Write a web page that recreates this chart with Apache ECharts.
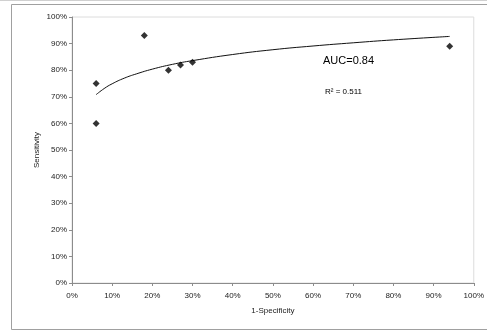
<!DOCTYPE html>
<html>
<head>
<meta charset="utf-8">
<script src="https://cdn.jsdelivr.net/npm/echarts@6/dist/echarts.min.js"></script>
<style>
html,body{margin:0;padding:0;background:#fff;}
#chart{width:487px;height:331px;}
</style>
</head>
<body>
<div id="chart"></div>
<script>
// Observed ROC points (1-Specificity, Sensitivity)
var specX = [0.06, 0.06, 0.18, 0.24, 0.27, 0.30, 0.94];
var sensY = [0.75, 0.60, 0.93, 0.80, 0.82, 0.83, 0.89];
// Logarithmic trendline
var trendX = [0.06, 0.08, 0.10, 0.13, 0.16, 0.20, 0.25, 0.30, 0.40, 0.50, 0.60, 0.70, 0.80, 0.94];
var trendY = [0.708, 0.731, 0.749, 0.770, 0.786, 0.804, 0.822, 0.836, 0.859, 0.877, 0.891, 0.903, 0.914, 0.927];
var tickLabels = ['0%','10%','20%','30%','40%','50%','60%','70%','80%','90%','100%'];
var aucText = 'AUC=0.84';
var r2Text = 'R\u00B2 = 0.511';

var font = 'Liberation Sans, Arial, sans-serif';
var pts = specX.map(function(x, i){ return [x, sensY[i]]; });
var trend = trendX.map(function(x, i){ return [x, trendY[i]]; });
function fmt(v){ return tickLabels[Math.round(v * 10)]; }

var chart = echarts.init(document.getElementById('chart'), null, {renderer:'canvas'});
chart.setOption({
  animation: false,
  backgroundColor: '#fff',
  grid: {left: 72, top: 17, right: 7, bottom: 48, show: true, borderColor: '#dcdcdc', borderWidth: 1, backgroundColor: 'transparent'},
  xAxis: {
    type: 'value', min: 0, max: 1, interval: 0.1,
    name: '1-Specificity', nameLocation: 'middle', nameGap: 24, nameMoveOverlap: false,
    nameTextStyle: {fontFamily: font, fontSize: 8, color: '#222'},
    axisLine: {show: true, onZero: false, lineStyle: {color: '#8c8c8c', width: 1}},
    axisTick: {show: true, inside: false, length: 3, lineStyle: {color: '#8c8c8c'}},
    axisLabel: {formatter: fmt, fontFamily: font, fontSize: 8, color: '#222', margin: 9},
    splitLine: {show: false}
  },
  yAxis: {
    type: 'value', min: 0, max: 1, interval: 0.1,
    name: 'Sensitivity', nameLocation: 'middle', nameGap: 31, nameMoveOverlap: false,
    nameTextStyle: {fontFamily: font, fontSize: 8, color: '#222'},
    axisLine: {show: true, onZero: false, lineStyle: {color: '#8c8c8c', width: 1}},
    axisTick: {show: true, inside: false, length: 3, lineStyle: {color: '#8c8c8c'}},
    axisLabel: {formatter: fmt, fontFamily: font, fontSize: 8, color: '#222', margin: 5},
    splitLine: {show: false}
  },
  series: [
    {
      type: 'line', data: trend, smooth: true, showSymbol: false, symbol: 'none',
      lineStyle: {color: '#111', width: 1}, z: 2
    },
    {
      type: 'scatter', data: pts, symbol: 'diamond', symbolSize: 7,
      itemStyle: {color: '#000'}, z: 3
    }
  ],
  graphic: [
    {type: 'line', shape: {x1: 0, y1: 0.5, x2: 487, y2: 0.5}, style: {stroke: '#d0d0d0', lineWidth: 1}, silent: true},
    {type: 'rect', shape: {x: 11.5, y: 4.5, width: 500, height: 325}, style: {fill: 'none', stroke: '#a0a0a0', lineWidth: 1}, silent: true, z: -1},
    {type: 'text', left: 323, top: 55, style: {text: aucText, font: '11px ' + font, fill: '#000'}},
    {type: 'text', left: 325, top: 88, style: {text: r2Text, font: '8px ' + font, fill: '#000'}}
  ]
});
</script>
</body>
</html>
